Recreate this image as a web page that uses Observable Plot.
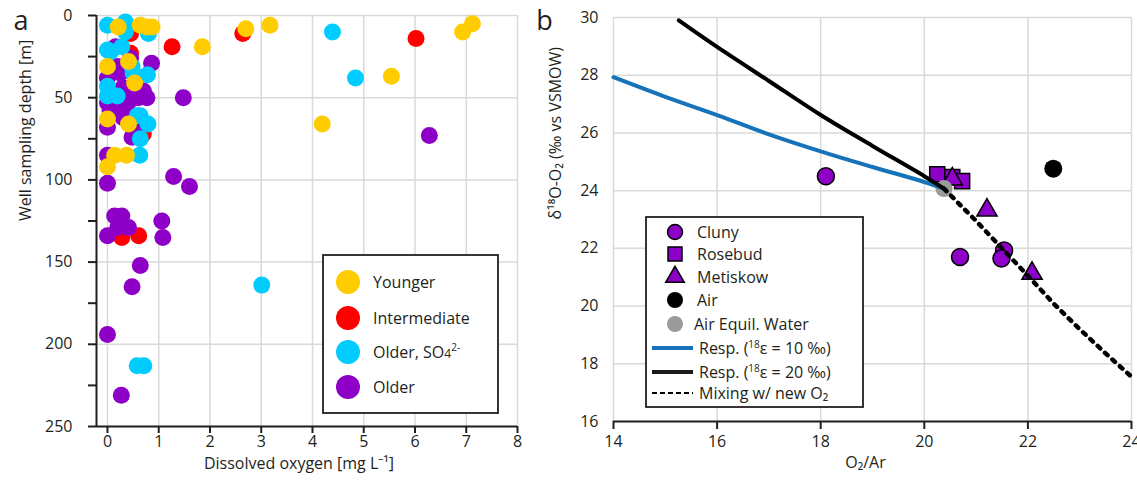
<!DOCTYPE html>
<html><head><meta charset="utf-8">
<script src="https://cdn.jsdelivr.net/npm/d3@7"></script>
<script src="https://cdn.jsdelivr.net/npm/@observablehq/plot@0.6"></script>
<style>
body{margin:0;background:#fff;}
#wrap{position:relative;width:1137px;height:480px;font-family:"Open Sans",sans-serif;}
#wrap svg{position:absolute;top:0;overflow:visible;}
</style></head><body><div id="wrap"></div>
<script>
// ---------- Panel a data: [dissolved O2 (mg/L), depth (m)] ----------
const groupsA = ["Intermediate", "Older", "Older, SO4", "Younger"]; // draw order
const groupColors = {"Younger":"#FFCC00","Intermediate":"#FF0000","Older, SO4":"#00CCFF","Older":"#8E00C8"};
const intermediate = [[0.45,11],[1.26,19],[2.64,11],[6.02,14],[0.45,23],[0.4,50],[0.70,72],[0.28,135],[0.61,134]];
const older = [[0.86,29],[1.48,50],[0.16,19],[0.45,26],[0.2,31],[0.25,35],[0,38],[0.3,44],[0.55,44],[0.64,46],[0.7,46],
  [0.77,50],[0.6,50],[0.5,48],[0,53],[0.4,53],[0.15,55],[0.32,58],[0.05,58],[0.3,62],[0.45,64],[0,68],[0.6,69],
  [0.51,71],[0.57,73],[0.48,74],[0,85],[0,102],[1.29,98],[1.60,104],[0.14,122],[0.28,122],[1.06,125],[0.41,129],
  [0.2,129],[0,134],[1.08,135],[0.64,152],[0.48,165],[0,194],[0.27,231],[6.28,73]];
const olderSO4 = [[0,6],[0.35,4],[0.35,10],[0.80,11],[4.39,10],[4.84,38],[0,21],[0.06,22],[0.28,19],[0.48,31],[0.5,35],
  [0.78,36],[0,43],[0,49],[0.19,49],[0.58,61],[0.64,61],[0.79,66],[0.64,75],[0.63,85],[3.01,164],[0.58,213],[0.71,213]];
const younger = [[0.21,7],[0.64,6],[0.77,7],[0.87,7],[1.85,19],[2.70,8],[3.17,6],[6.93,10],[7.12,5],[0.41,28],[0,31],
  [0.53,41],[0,63],[0.41,66],[4.19,66],[5.54,37],[0.14,85],[0.37,85],[0,92]];
const xTicksA = [0,1,2,3,4,5,6,7,8];
const yTicksA = [0,25,50,75,100,125,150,175,200,225,250];
const yGridA = [0,50,100,150,200,250];

// ---------- Panel b data: [O2/Ar, d18O-O2] ----------
const cluny = [[18.1,24.5],[20.69,21.7],[21.54,21.93],[21.49,21.65]];
const rosebud = [[20.25,24.57],[20.54,24.47],[20.73,24.33]];
const metiskow = [[20.54,24.4],[21.21,23.32],[22.08,21.13]];
const air = [[22.49,24.76]];
const airEquil = [[20.38,24.07]];
const resp10 = [[14,27.93],[15,27.25],[16,26.62],[17,25.95],[18,25.36],[19,24.82],[20,24.3],[20.38,24.07]];
const resp20 = [[15.26,29.9],[16,28.98],[17,27.8],[18,26.62],[19,25.55],[20,24.5],[20.38,24.07]];
const mixing = [[20.38,24.07],[21.0,22.95],[21.5,22.0],[22.0,21.05],[22.5,20.08],[23.0,19.2],[23.5,18.36],[24.0,17.55]];
const xTicksB = [14,16,18,20,22,24];
const yTicksB = [16,18,20,22,24,26,28,30];

const ink = "#231f20", gridC = "#d9d9d9", purple = "#8E00C8";
const wrap = document.getElementById("wrap");

// ---------- Panel a ----------
const ptsA = [];
const src = {"Intermediate":intermediate,"Older":older,"Older, SO4":olderSO4,"Younger":younger};
for (const g of groupsA) for (const [o,d] of src[g]) ptsA.push({o2:o, depth:d, group:g});
const xMinA = -0.214;
const svgA = Plot.plot({
  width:540, height:480, marginLeft:96, marginRight:23, marginTop:15, marginBottom:54,
  x:{domain:[xMinA,8]}, y:{domain:[0,250], reverse:true},
  style:{fontFamily:"Open Sans", fontSize:"16px", color:ink, background:"transparent"},
  marks:[
    Plot.gridX(xTicksA, {stroke:gridC, strokeOpacity:1, strokeWidth:1.5}),
    Plot.gridY(yGridA, {stroke:gridC, strokeOpacity:1, strokeWidth:1.5}),
    Plot.dot(ptsA, {x:"o2", y:"depth", r:8.5, fill:d=>groupColors[d.group], stroke:null}),
    Plot.ruleX([xMinA], {stroke:ink, strokeWidth:2}),
    Plot.ruleY([250], {stroke:ink, strokeWidth:2}),
    Plot.axisX(xTicksA, {tickSize:7, tickPadding:2, strokeWidth:2, label:null, fontSize:16}),
    Plot.axisY(yTicksA, {tickSize:8, tickPadding:16, strokeWidth:2, label:null, fontSize:16,
      tickFormat:d=> d%50===0 ? String(d) : ""}),
    Plot.text(["Well sampling depth [m]"], {frameAnchor:"left", rotate:-90, dx:-71, fontSize:16, fill:ink}),
    Plot.text(["Dissolved oxygen [mg L⁻¹]"], {frameAnchor:"bottom", dx:-8, dy:42, fontSize:16, fill:ink})
  ]
});
svgA.style.left = "0px";
wrap.appendChild(svgA);

// ---------- Panel b ----------
const toObj = (arr, s) => arr.map(([x,y]) => ({x, y, s}));
const svgB = Plot.plot({
  width:597, height:480, marginLeft:73, marginRight:6, marginTop:17, marginBottom:59,
  x:{domain:[14,24]}, y:{domain:[16,30]},
  style:{fontFamily:"Open Sans", fontSize:"16px", color:ink, background:"transparent"},
  marks:[
    Plot.gridX(xTicksB, {stroke:gridC, strokeOpacity:1, strokeWidth:1.5}),
    Plot.gridY(yTicksB, {stroke:gridC, strokeOpacity:1, strokeWidth:1.5}),
    Plot.dot(toObj(rosebud), {x:"x", y:"y", symbol:"square", r:8.5, fill:purple, stroke:"#000", strokeWidth:1.5}),
    Plot.dot(toObj(metiskow), {x:"x", y:"y", symbol:"triangle", r:7.5, fill:purple, stroke:"#000", strokeWidth:1.5}),
    Plot.dot(toObj(cluny), {x:"x", y:"y", symbol:"circle", r:8.5, fill:purple, stroke:"#000", strokeWidth:1.5}),
    Plot.dot(toObj(air), {x:"x", y:"y", r:9, fill:"#000", stroke:null}),
    Plot.dot(toObj(airEquil), {x:"x", y:"y", r:8.5, fill:"#9b9b9b", stroke:null}),
    Plot.line(toObj(resp10), {x:"x", y:"y", stroke:"#1673BA", strokeWidth:4, curve:"catmull-rom"}),
    Plot.line(toObj(resp20), {x:"x", y:"y", stroke:"#000", strokeWidth:4, curve:"catmull-rom"}),
    Plot.line(toObj(mixing), {x:"x", y:"y", stroke:"#000", strokeWidth:4.5, strokeDasharray:"3.5,6.5", curve:"linear"}),
    Plot.ruleY([16], {stroke:ink, strokeWidth:2}),
    Plot.axisX(xTicksB, {tickSize:8, tickPadding:6, strokeWidth:2, label:null, fontSize:16}),
    Plot.axisY(yTicksB, {tickSize:0, tickPadding:15, label:null, fontSize:16}),
    Plot.text(["δ¹⁸O-O₂ (‰ vs VSMOW)"], {frameAnchor:"left", rotate:-90, dx:-58, fontSize:16, fill:ink}),
    Plot.text(["O₂/Ar"], {frameAnchor:"bottom", dx:-7, dy:46, fontSize:16, fill:ink})
  ]
});
svgB.style.left = "540px";
wrap.appendChild(svgB);

// ---------- panel labels & legends ----------
const ga = d3.select(svgA).append("g").attr("font-family","Open Sans").attr("fill",ink).attr("text-anchor","start");
ga.append("text").attr("x",21).attr("y",30).attr("text-anchor","middle").attr("font-size",27).text("a");
const la = ga.append("g");
la.append("rect").attr("x",323).attr("y",255).attr("width",175).attr("height",158)
  .attr("fill","#fff").attr("stroke",ink).attr("stroke-width",1.8);
const legA = [["Younger","#FFCC00"],["Intermediate","#FF0000"],["Older, SO4","#00CCFF"],["Older",purple]];
const legAy = [282,318,352,387];
legA.forEach(([name,col],i)=>{
  la.append("circle").attr("cx",348).attr("cy",legAy[i]).attr("r",12).attr("fill",col);
  const t = la.append("text").attr("x",373).attr("y",legAy[i]).attr("dy","0.35em").attr("font-size",16);
  if (name === "Older, SO4") {
    t.append("tspan").text("Older, SO");
    t.append("tspan").attr("font-size",12).text("4");
    t.append("tspan").attr("font-size",10).attr("dy",-7).text("2-");
  } else t.text(name);
});

const gb = d3.select(svgB).append("g").attr("font-family","Open Sans").attr("fill",ink).attr("text-anchor","start");
gb.append("text").attr("x",4.5).attr("y",30).attr("text-anchor","middle").attr("font-size",27).text("b");
const lb = gb.append("g");
lb.append("rect").attr("x",106).attr("y",217).attr("width",217).attr("height",190)
  .attr("fill","#fff").attr("stroke",ink).attr("stroke-width",1.8);
const symY = [232,254,277,300,324];
const sym = [[d3.symbolCircle,purple,true],[d3.symbolSquare,purple,true],[d3.symbolTriangle,purple,true],[d3.symbolCircle,"#000",false],[d3.symbolCircle,"#9b9b9b",false]];
const symSize = [Math.PI*7.5*7.5, 196, 150, Math.PI*8*8, Math.PI*8*8];
const names = ["Cluny","Rosebud","Metiskow","Air","Air Equil. Water"];
sym.forEach(([s,col,st],i)=>{
  lb.append("path").attr("d", d3.symbol(s, symSize[i])()).attr("transform",`translate(135,${symY[i]})`)
    .attr("fill",col).attr("stroke", st ? "#000" : "none").attr("stroke-width",1.5);
  lb.append("text").attr("x", i===4 ? 154 : 157).attr("y",symY[i]).attr("dy","0.35em").attr("font-size",16).text(names[i]);
});
const lineItems = [[348,"#1673BA",4,null,"10"],[372,"#1a1a1a",4,null,"20"],[393,"#000",2,"5,3",null]];
lineItems.forEach(([y,col,w,dash,eps])=>{
  lb.append("line").attr("x1",112).attr("x2",153).attr("y1",y).attr("y2",y)
    .attr("stroke",col).attr("stroke-width",w).attr("stroke-dasharray",dash);
  const t = lb.append("text").attr("x",159).attr("y",y).attr("dy","0.35em").attr("font-size",16);
  if (eps) {
    t.append("tspan").text("Resp. (");
    t.append("tspan").attr("font-size",10).attr("dy",-6).text("18");
    t.append("tspan").attr("dy",6).text(`ε = ${eps} ‰)`);
  } else {
    t.append("tspan").text("Mixing w/ new O₂");
  }
});
</script></body></html>
